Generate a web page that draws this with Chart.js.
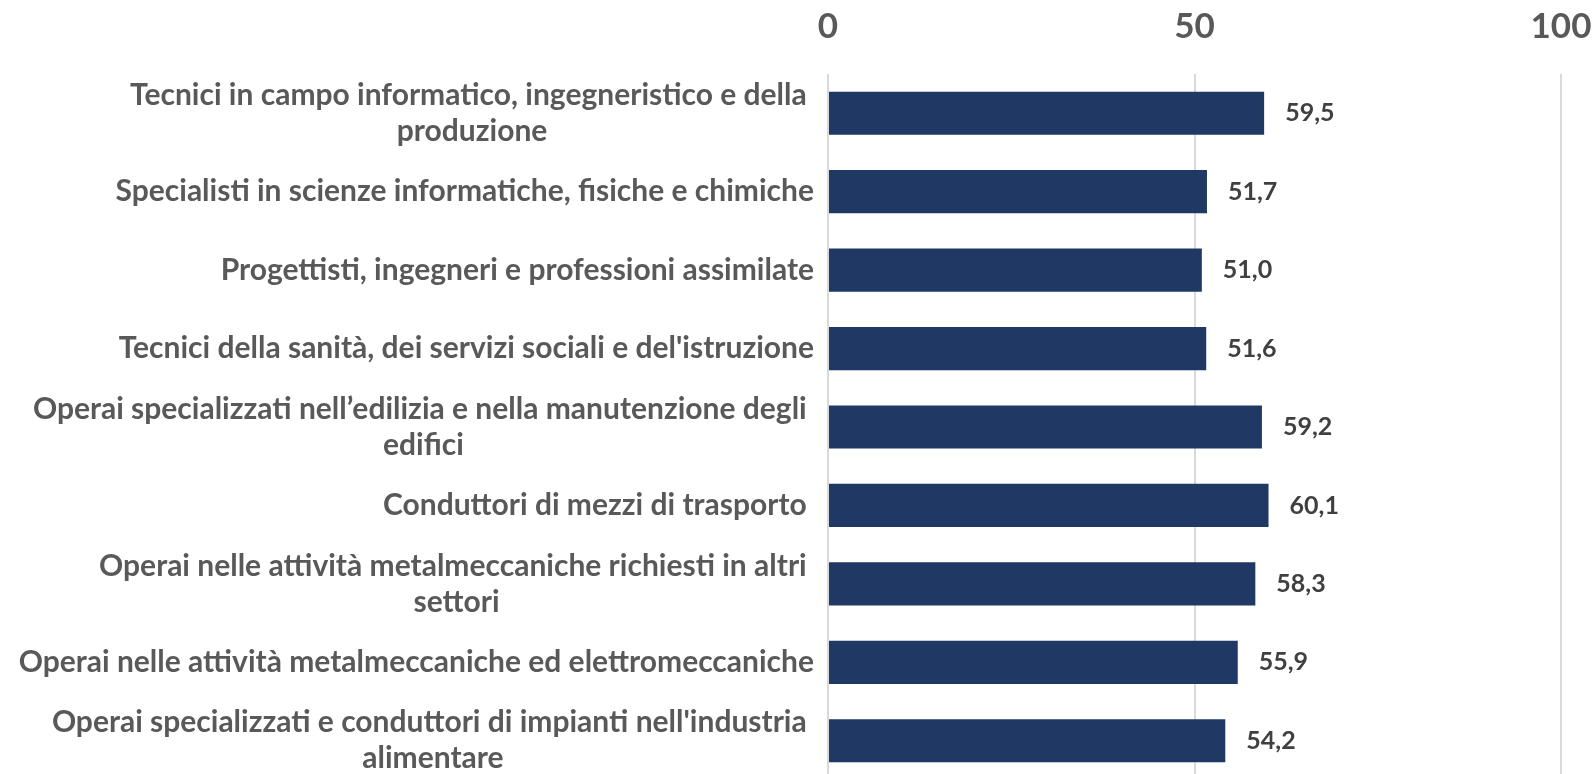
<!DOCTYPE html>
<html>
<head>
<meta charset="utf-8">
<script src="https://cdn.jsdelivr.net/npm/chart.js@4"></script>
<style>
  html, body { margin: 0; padding: 0; background: #fff; overflow: hidden; }
  #wrap { width: 1596px; height: 780px; position: relative; }
</style>
</head>
<body>
<div id="wrap"><canvas id="myChart"></canvas></div>
<script>
// Categorie (righe del grafico), le righe spezzate come nell'originale
const categorie = [
  ['Tecnici in campo informatico, ingegneristico e della ', 'produzione'],
  ['Specialisti in scienze informatiche, fisiche e chimiche'],
  ['Progettisti, ingegneri e professioni assimilate'],
  ['Tecnici della sanità, dei servizi sociali e del\'istruzione'],
  ['Operai specializzati nell\u2019edilizia e nella manutenzione degli ', 'edifici'],
  ['Conduttori di mezzi di trasporto '],
  ['Operai nelle attività metalmeccaniche richiesti in altri ', 'settori'],
  ['Operai nelle attività metalmeccaniche ed elettromeccaniche'],
  ['Operai specializzati e conduttori di impianti nell\'industria ', 'alimentare']
];
// Valori
const valori = [59.5, 51.7, 51.0, 51.6, 59.2, 60.1, 58.3, 55.9, 54.2];
// Tacche dell'asse
const tacche = [0, 50, 100];

const FONT = 'Lato, "Open Sans", sans-serif';
const GRIGIO = '#595959';

// Etichette delle categorie: blocchi allineati a destra, righe centrate
const etichettePlugin = {
  id: 'etichette',
  afterDraw(chart) {
    const ctx = chart.ctx;
    const y = chart.scales.y;
    const destra = 814;
    const lh = 36;
    ctx.save();
    ctx.font = 'bold 30px ' + FONT;
    ctx.fillStyle = GRIGIO;
    ctx.textAlign = 'left';
    ctx.textBaseline = 'middle';
    categorie.forEach((righe, i) => {
      const larg = Math.max(...righe.map(r => ctx.measureText(r).width));
      const cx = destra - larg / 2;
      const cy = y.getPixelForValue(i);
      righe.forEach((r, k) => {
        const yy = cy + (k - (righe.length - 1) / 2) * lh;
        const w = ctx.measureText(r).width;
        ctx.fillText(r.trimEnd(), cx - w / 2, yy);
      });
    });
    ctx.restore();
  }
};

// Valori accanto alle barre
const valoriPlugin = {
  id: 'valori',
  afterDatasetsDraw(chart) {
    const ctx = chart.ctx;
    ctx.save();
    ctx.font = 'bold 25px ' + FONT;
    ctx.fillStyle = '#404040';
    ctx.textAlign = 'left';
    ctx.textBaseline = 'middle';
    chart.getDatasetMeta(0).data.forEach((bar, i) => {
      ctx.fillText(valori[i].toFixed(1).replace('.', ','), bar.x + 21, bar.y);
    });
    ctx.restore();
  }
};

let ctx = document.getElementById('myChart').getContext('2d');
let chart = new Chart(ctx, {
  type: 'bar',
  data: {
    labels: categorie,
    datasets: [{
      data: valori,
      backgroundColor: '#203864',
      borderWidth: 0,
      barPercentage: 0.55,
      categoryPercentage: 1
    }]
  },
  options: {
    indexAxis: 'y',
    responsive: true,
    maintainAspectRatio: false,
    animation: false,
    layout: { padding: { left: 0, right: 35, top: 0, bottom: 0 } },
    plugins: { legend: { display: false }, tooltip: { enabled: false } },
    scales: {
      x: {
        position: 'top',
        min: 0,
        max: 100,
        afterBuildTicks(scale) { scale.ticks = tacche.map(v => ({ value: v })); },
        afterFit(scale) {
          scale.height = 74;
          scale.paddingLeft = 0;
          scale.paddingRight = 0;
        },
        grid: { color: '#d9d9d9', lineWidth: 2, drawTicks: false },
        border: { display: false },
        ticks: {
          color: GRIGIO,
          font: { family: FONT, size: 35, weight: 'bold' },
          padding: 26,
          maxRotation: 0
        }
      },
      y: {
        afterFit(scale) { scale.width = 828; },
        grid: { display: false },
        border: { display: false },
        ticks: { display: false }
      }
    }
  },
  plugins: [etichettePlugin, valoriPlugin]
});
</script>
</body>
</html>
